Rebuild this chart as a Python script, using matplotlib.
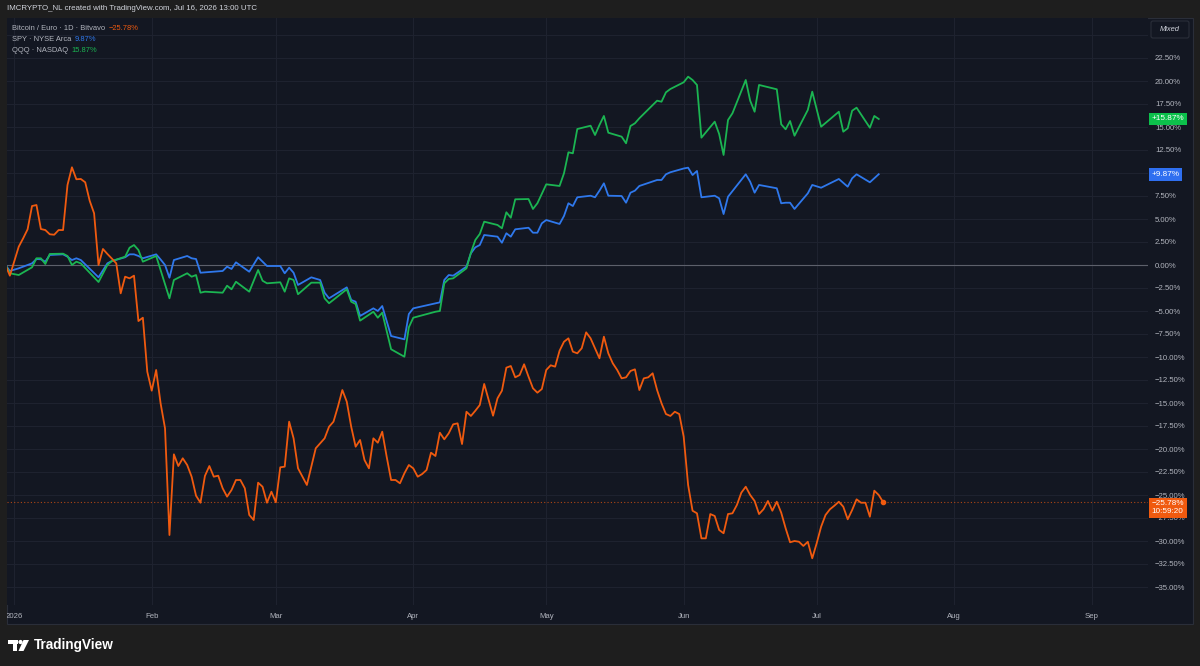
import matplotlib.pyplot as plt
import matplotlib.patches as mpatches
import matplotlib.transforms as mtransforms
import numpy as np

plt.rcParams['font.family'] = ['Liberation Sans', 'DejaVu Sans']

W, H = 1200, 666

# --- data: % change vs. first bar, day 0 = 1 Jan 2026 ---
btc_first_day = -2
btc_pct = [
    0.0, -1.16, 0.4, 1.99, 2.90, 3.88, 6.41, 6.52, 3.91, 3.80,
    3.34, 3.29, 3.80, 3.80, 8.70, 10.62, 9.32, 9.35, 8.99, 6.99,
    5.62, 0.0, 1.74, 1.2, 0.7, 0.18, -3.08, -1.27, -1.45, -1.16,
    -6.09, -5.73, -11.6, -13.66, -11.41, -15.03, -17.75, -29.35, -20.58, -21.85,
    -21.01, -21.74, -23.01, -25.08, -25.84, -22.93, -21.85, -23.01, -22.90, -24.27,
    -25.18, -24.46, -23.37, -23.37, -24.27, -27.17, -27.72, -23.66, -24.10, -25.84,
    -24.64, -25.79, -21.99, -21.92, -17.03, -18.84, -22.10, -23.01, -23.91, -21.92,
    -19.92, -19.38, -18.84, -17.58, -17.03, -15.40, -13.59, -14.86, -17.58, -19.75,
    -19.02, -21.20, -22.10, -18.84, -19.32, -18.12, -20.84, -23.37, -23.37, -23.73,
    -22.64, -21.74, -22.10, -23.01, -22.72, -22.28, -20.40, -20.76, -18.23, -18.95,
    -18.29, -17.32, -17.21, -19.46, -15.95, -16.41, -15.84, -15.22, -12.93, -14.67,
    -16.38, -14.49, -13.66, -11.16, -10.98, -12.21, -11.96, -10.79, -12.14, -13.40,
    -13.88, -13.48, -11.41, -10.90, -11.05, -9.32, -8.34, -7.97, -9.42, -9.60,
    -9.05, -7.32, -7.97, -9.05, -10.14, -7.79, -9.60, -10.68, -11.41, -12.32,
    -12.21, -11.52, -11.34, -13.59, -12.32, -12.21, -11.77, -13.59, -15.03, -16.20,
    -16.41, -15.95, -16.20, -18.66, -23.91, -26.71, -26.99, -29.71, -29.71, -27.07,
    -27.28, -28.80, -29.16, -27.07, -26.99, -26.09, -24.75, -24.10, -25.00, -25.65,
    -27.07, -26.55, -25.65, -26.71, -25.73, -26.92, -28.62, -30.14, -30.00, -30.08,
    -30.54, -30.08, -31.88, -30.25, -28.45, -27.17, -26.55, -26.16, -25.73, -26.27,
    -27.64, -26.63, -25.47, -25.84, -25.84, -27.36, -24.53, -25.00, -25.78,
]

spy_days = [-2, -1, 1, 4, 5, 6, 7, 8, 11, 12, 13, 14, 15, 19, 21, 22, 25, 26, 27, 28,
            29, 32, 33, 34, 35, 36, 39, 40, 41, 42, 43, 47, 48, 49, 50, 53, 55, 57, 60, 61,
            62, 63, 64, 67, 69, 70, 71, 75, 76, 77, 78, 81, 82, 83, 85, 88, 89, 90, 96, 97,
            98, 99, 102, 103, 104, 105, 106, 109, 110, 111, 112, 113, 116, 117, 118, 119, 120, 123, 124, 125,
            126, 127, 130, 131, 132, 133, 134, 137, 138, 139, 140, 141, 145, 146, 147, 148, 151, 152, 153, 154,
            155, 158, 159, 160, 161, 165, 166, 167, 168, 172, 173, 174, 175, 176, 179, 180, 182, 186, 188, 189,
            190, 193, 195]
spy_pct = [0.0, -0.65, -0.36, 0.18, 0.65, 0.62, 0.36, 1.09, 1.16, 0.90, 0.54, 0.73, 0.54, -1.34, 0.18, 0.43, 0.84, 1.16, 1.16, 0.98,
           0.73, 1.16, 0.6, 0.0, -1.38, 0.54, 0.98, 0.73, 0.65, -0.84, -0.80, -0.65, -0.18, -0.43, 0.29, -0.73, 0.84, -0.11, -0.11, -0.90,
           -0.29, -0.84, -2.17, -1.34, -1.63, -3.01, -3.62, -2.43, -3.80, -3.99, -5.54, -4.71, -5.00, -4.46, -7.72, -8.08, -5.33, -4.71, -4.06, -1.63,
           -1.09, -1.16, -0.18, 1.27, 1.92, 2.17, 3.26, 3.08, 2.42, 3.45, 3.08, 3.88, 4.05, 3.51, 3.51, 4.53, 4.89, 4.46, 5.33, 6.71,
           6.41, 7.36, 7.53, 7.36, 8.08, 8.88, 7.53, 7.50, 6.77, 7.86, 8.08, 8.59, 9.24, 9.24, 9.86, 10.08, 10.49, 10.58, 9.78, 10.22,
           7.36, 7.53, 7.25, 5.54, 7.42, 9.86, 9.05, 7.86, 8.70, 8.34, 6.71, 6.77, 6.77, 6.09, 7.79, 8.70, 8.40, 9.35, 8.51, 9.42,
           9.86, 8.99, 9.87]

qqq_days = [-2, -1, 1, 4, 5, 6, 7, 8, 11, 12, 13, 14, 15, 19, 21, 22, 25, 26, 27, 28,
            29, 32, 35, 36, 39, 40, 41, 42, 43, 47, 48, 49, 50, 53, 55, 56, 57, 60, 61, 62,
            63, 64, 67, 69, 70, 71, 75, 76, 77, 78, 81, 82, 83, 85, 88, 89, 90, 95, 96, 97,
            98, 99, 102, 103, 104, 105, 106, 109, 110, 111, 112, 113, 116, 117, 118, 120, 123, 124, 125, 126,
            127, 130, 131, 132, 133, 134, 137, 138, 139, 140, 141, 145, 146, 147, 148, 151, 152, 153, 154, 155,
            158, 159, 160, 161, 162, 165, 166, 167, 168, 172, 173, 174, 175, 176, 179, 180, 182, 186, 187, 188,
            189, 190, 193, 194, 195]
qqq_pct = [0.0, -0.90, -1.09, -0.25, 0.73, 0.73, 0.11, 1.20, 1.23, 0.98, 0.0, 0.36, 0.18, -1.85, 0.0, 0.43, 0.90, 1.88, 2.17, 1.63,
           0.36, 0.98, -3.62, -1.63, -0.90, -1.27, -1.09, -3.01, -2.90, -3.01, -2.25, -2.64, -1.82, -2.90, -0.54, -1.71, -1.99, -1.88, -2.90, -1.45,
           -1.63, -3.18, -1.92, -1.92, -3.62, -4.16, -2.64, -3.99, -4.24, -6.05, -5.08, -5.73, -5.18, -9.16, -9.97, -6.77, -5.73, -5.08, -5.00, -1.99,
           -1.52, -1.45, -0.36, 1.34, 2.72, 3.37, 4.71, 4.35, 3.99, 5.73, 5.14, 7.14, 7.17, 6.09, 6.71, 8.77, 8.59, 9.97, 12.25, 12.14,
           14.78, 15.14, 14.13, 15.22, 16.20, 14.38, 13.95, 13.23, 15.11, 15.40, 15.95, 17.86, 17.75, 18.77, 19.13, 19.86, 20.47, 20.11, 19.57, 13.84,
           15.58, 14.24, 11.96, 15.76, 16.49, 20.11, 17.86, 16.66, 19.57, 19.10, 15.29, 14.75, 15.65, 14.05, 16.85, 18.84, 15.03, 16.66, 14.49, 14.86,
           16.77, 17.10, 14.92, 16.20, 15.87]

month_days = [0, 31, 59, 90, 120, 151, 181, 212, 243]
month_labels = ['2026', 'Feb', 'Mar', 'Apr', 'May', 'Jun', 'Jul', 'Aug', 'Sep']
# 10.00% is hidden behind the SPY tag in the original
price_ticks = [-35, -32.5, -30, -27.5, -25, -22.5, -20, -17.5, -15, -12.5, -10, -7.5, -5,
               -2.5, 0, 2.5, 5, 7.5, 12.5, 15, 17.5, 20, 22.5]
grid_levels = price_ticks + [10, 25]

legend_names = ['Bitcoin / Euro · 1D · Bitvavo', 'SPY · NYSE Arca', 'QQQ · NASDAQ']
legend_values = ['−25.78%', '9.87%', '15.87%']
btc_clock = '10:59:20'

orange = '#f05a0f'
blue = '#2f78ec'
green = '#1bb552'
panel_bg = '#131722'
grid_c = '#1f2330'
txt_c = '#b2b5be'

fig = plt.figure(figsize=(W / 100, H / 100), dpi=100, facecolor='#1e1e1e')
px = mtransforms.Affine2D().scale(1 / W, -1 / H).translate(0, 1) + fig.transFigure

panel = mpatches.Rectangle((7, 18), 1186, 606, transform=px, facecolor=panel_bg,
                           edgecolor='#2a2e39', lw=0.8, zorder=-5)
fig.patches.append(panel)

ax = fig.add_axes([7 / W, 1 - 605 / H, (1148 - 7) / W, (605 - 18) / H])
ax.set_facecolor(panel_bg)
for s in ax.spines.values():
    s.set_visible(False)

ax.set_xlim((7 - 14.3) / 4.433, (1148 - 14.3) / 4.433)
ax.set_ylim((265 - 605) / 9.2, (265 - 18) / 9.2)

for lv in grid_levels:
    ax.axhline(lv, color=grid_c, lw=0.7, zorder=0)
for d in month_days:
    ax.axvline(d, color=grid_c, lw=0.7, zorder=0)
ax.axhline(0, color='#5d606b', lw=0.8, zorder=1)

btc_days = np.arange(btc_first_day, btc_first_day + len(btc_pct))
ax.plot(spy_days, spy_pct, color=blue, lw=1.3, zorder=3)
ax.plot(qqq_days, qqq_pct, color=green, lw=1.3, zorder=3)
ax.plot(btc_days, btc_pct, color=orange, lw=1.3, zorder=4)
ax.axhline(btc_pct[-1], color=orange, lw=0.8, ls=(0, (1, 2)), alpha=0.7, zorder=2)
ax.plot(btc_days[-1], btc_pct[-1], 'o', ms=3, color=orange, zorder=5)

# price scale on the right
ax.yaxis.tick_right()
ax.set_yticks(price_ticks)
ax.set_yticklabels([f'{v:.2f}%'.replace('-', '−') for v in price_ticks])
ax.tick_params(axis='y', length=0, pad=5, labelsize=5.6, labelcolor=txt_c)

# time scale
ax.set_xticks(month_days)
ax.set_xticklabels(month_labels)
ax.tick_params(axis='x', length=0, pad=6, labelsize=5.6, labelcolor=txt_c)
for lbl in ax.get_xticklabels():
    lbl.set_clip_path(panel)

# last value tags
ytr = ax.get_yaxis_transform()
tag_kw = dict(transform=ytr, ha='left', fontsize=5.9, color='white', clip_on=False, zorder=10)
ax.text(1.003, qqq_pct[-1], '+' + legend_values[2], va='center',
        bbox=dict(boxstyle='square,pad=0.35', fc='#0cc04b', ec='none'), **tag_kw)
ax.text(1.003, spy_pct[-1], '+' + legend_values[1], va='center',
        bbox=dict(boxstyle='square,pad=0.35', fc='#2f6ff0', ec='none'), **tag_kw)
ax.text(1.003, btc_pct[-1] - 0.6, legend_values[0] + '\n' + btc_clock, va='center', linespacing=1.1,
        bbox=dict(boxstyle='square,pad=0.35', fc=orange, ec='none'), **tag_kw)

# header and legend
fig.text(7 / W, 1 - 9 / H, 'IMCRYPTO_NL created with TradingView.com, Jul 16, 2026 13:00 UTC',
         color='#d1d4dc', fontsize=5.7, va='center')
for i, (name, val, col) in enumerate(zip(legend_names, legend_values, [orange, blue, green])):
    t = fig.text(12 / W, 1 - (28 + 11.5 * i) / H, name, color=txt_c, fontsize=5.4, va='center')
    ax.annotate(val, xy=(1, 0.5), xycoords=t, xytext=(2.5, 0), textcoords='offset points',
                color=col, fontsize=5.4, va='center', ha='left', annotation_clip=False)

# "Mixed" button
btn = mpatches.FancyBboxPatch((1151, 21), 38, 17, boxstyle='round,pad=0,rounding_size=2',
                              transform=px, fc=panel_bg, ec='#2a2e39', lw=0.8)
fig.patches.append(btn)
fig.text(1170 / W, 1 - 29.5 / H, 'Mixed', color='#d1d4dc', fontsize=5.4, ha='center', va='center',
         style='italic')

# TradingView logo
fig.patches.append(mpatches.Rectangle((8, 640), 9.5, 4, transform=px, fc='white', ec='none'))
fig.patches.append(mpatches.Rectangle((12.5, 640), 4.5, 11, transform=px, fc='white', ec='none'))
fig.patches.append(mpatches.Circle((20.5, 642), 2.1, transform=px, fc='white', ec='none'))
fig.patches.append(mpatches.Polygon([(23.5, 640), (29, 640), (23.5, 651), (18.5, 651)],
                                    transform=px, fc='white', ec='none'))
fig.text(34 / W, 1 - 645.5 / H, 'TradingView', color='white', fontsize=9.8, weight='bold', va='center')

fig.savefig('out.png', dpi=100, facecolor=fig.get_facecolor())
